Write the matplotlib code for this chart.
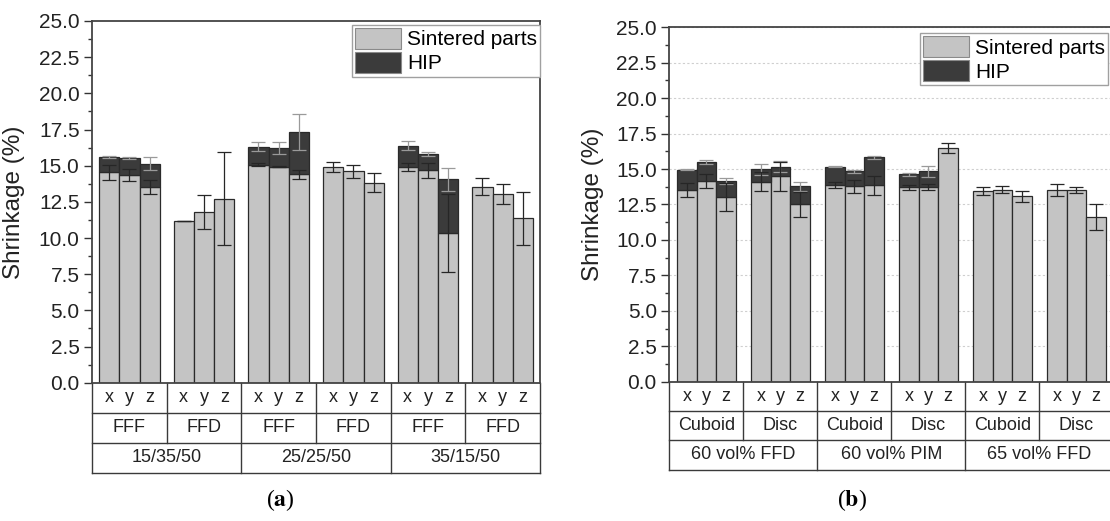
import numpy as np
import matplotlib
matplotlib.use('Agg')
import matplotlib.pyplot as plt
from matplotlib.patches import Patch
from matplotlib.ticker import MultipleLocator, FormatStrFormatter

plt.rcParams['font.family'] = ['Liberation Sans', 'DejaVu Sans']
plt.rcParams['mathtext.fontset'] = 'stix'

# --- data ---
directions = ['x', 'y', 'z']
nan = np.nan

a_process = ['FFF', 'FFD', 'FFF', 'FFD', 'FFF', 'FFD']
a_mix = ['15/35/50', '25/25/50', '35/15/50']
a_sintered = [[14.53, 14.34, 13.51], [11.18, 11.80, 12.73], [15.06, 14.94, 14.41],
              [14.90, 14.60, 13.83], [14.90, 14.67, 10.32], [13.56, 13.05, 11.36]]
a_hip = [[15.59, 15.52, 15.13], [nan, nan, nan], [16.31, 16.22, 17.33],
         [nan, nan, nan], [16.38, 15.82, 14.07], [nan, nan, nan]]
a_sintered_err = [[0.50, 0.40, 0.50], [0.0, 1.20, 3.20], [0.10, 0.05, 0.30],
                  [0.35, 0.45, 0.68], [0.30, 0.50, 2.70], [0.62, 0.67, 1.85]]
a_hip_err = [[0.05, 0.05, 0.46], [nan, nan, nan], [0.32, 0.40, 1.27],
             [nan, nan, nan], [0.30, 0.16, 0.80], [nan, nan, nan]]

b_shape = ['Cuboid', 'Disc', 'Cuboid', 'Disc', 'Cuboid', 'Disc']
b_feedstock = ['60 vol% FFD', '60 vol% PIM', '65 vol% FFD']
b_sintered = [[13.54, 14.17, 13.04], [14.12, 14.48, 12.50], [13.87, 13.77, 13.84],
              [13.70, 13.72, 16.50], [13.42, 13.54, 13.07], [13.54, 13.54, 11.61]]
b_hip = [[14.95, 15.49, 14.17], [14.99, 15.18, 13.77], [15.18, 14.83, 15.82],
         [14.62, 14.85, nan], [nan, nan, nan], [nan, nan, nan]]
b_sintered_err = [[0.50, 0.50, 1.00], [0.65, 1.00, 0.90], [0.20, 0.45, 0.66],
                  [0.15, 0.23, 0.37], [0.28, 0.23, 0.39], [0.42, 0.21, 0.92]]
b_hip_err = [[0.05, 0.16, 0.20], [0.40, 0.40, 0.33], [0.05, 0.10, 0.10],
             [0.10, 0.38, nan], [nan, nan, nan], [nan, nan, nan]]

C_SINT = '#c4c4c4'
C_HIP = '#3b3b3b'
C_EDGE = '#2a2a2a'
C_LINE = '#3a3a3a'


def draw_panel(ax, sint, hip, sint_err, hip_err, row2, row3, step, row_h, grid=False):
    sint = np.array(sint)
    hip = np.array(hip)
    sint_err = np.array(sint_err)
    hip_err = np.array(hip_err)
    offsets = np.array([-step, 0, step])

    for g in range(sint.shape[0]):
        xs = g + offsets
        ax.bar(xs, sint[g], width=step, color=C_SINT, edgecolor=C_EDGE,
               linewidth=0.9, zorder=2)
        has_hip = ~np.isnan(hip[g])
        if has_hip.any():
            ax.bar(xs[has_hip], hip[g][has_hip] - sint[g][has_hip], bottom=sint[g][has_hip],
                   width=step, color=C_HIP, edgecolor=C_EDGE, linewidth=0.9, zorder=2)
            ax.errorbar(xs[has_hip], hip[g][has_hip], yerr=hip_err[g][has_hip], fmt='none',
                        ecolor='#9a9a9a', elinewidth=0.9, capsize=5, capthick=0.9, zorder=3)
        ax.errorbar(xs, sint[g], yerr=sint_err[g], fmt='none', ecolor='#262626',
                    elinewidth=0.9, capsize=5, capthick=0.9, zorder=3)

    ax.set_xlim(-0.5, 5.5)
    ax.set_ylim(0, 25)
    ax.set_xticks([])
    ax.yaxis.set_major_locator(MultipleLocator(2.5))
    ax.yaxis.set_minor_locator(MultipleLocator(1.25))
    ax.yaxis.set_major_formatter(FormatStrFormatter('%.1f'))
    ax.tick_params(axis='y', which='major', length=6, width=1.0, labelsize=15,
                   pad=3, colors='#333333', labelcolor='#222222')
    ax.tick_params(axis='y', which='minor', length=3, width=1.0, colors='#333333')
    for s in ax.spines.values():
        s.set_color('#444444')
        s.set_linewidth(1.3)
    if grid:
        ax.grid(axis='y', color='#cfcfcf', linestyle=(0, (2, 2)), linewidth=0.8, zorder=0)
        ax.set_axisbelow(True)
    ax.set_ylabel('Shrinkage (%)', fontsize=17.5, color='#222222')

    # category table below the axis
    tr = ax.get_xaxis_transform()
    kw = dict(transform=tr, clip_on=False, color=C_LINE, linewidth=1.0)
    for k in range(1, 4):
        ax.plot([-0.5, 5.5], [-k * row_h, -k * row_h], **kw)
    for xb in (-0.5, 5.5):
        ax.plot([xb, xb], [0, -3 * row_h], **kw)
    for g in range(5):
        depth = 3 if g in (1, 3) else 2
        ax.plot([g + 0.5, g + 0.5], [0, -depth * row_h], **kw)

    for g in range(6):
        for x, d in zip(g + offsets, directions):
            ax.text(x, -0.5 * row_h, d, transform=tr, ha='center', va='center',
                    fontsize=13, color='#222222')
        ax.text(g, -1.5 * row_h, row2[g], transform=tr, ha='center', va='center',
                fontsize=13, color='#222222')
    for k, lab in enumerate(row3):
        ax.text(2 * k + 0.5, -2.5 * row_h, lab, transform=tr, ha='center', va='center',
                fontsize=13, color='#222222')


def add_legend(ax, anchor):
    handles = [Patch(facecolor=C_SINT, edgecolor='#8a8a8a', linewidth=0.8, label='Sintered parts'),
               Patch(facecolor=C_HIP, edgecolor='#8a8a8a', linewidth=0.8, label='HIP')]
    leg = ax.legend(handles=handles, loc='upper right', bbox_to_anchor=anchor,
                    fontsize=15, frameon=True, fancybox=False, edgecolor='#a0a0a0',
                    framealpha=1, borderpad=0.15, borderaxespad=0, labelspacing=0.12,
                    handlelength=2.2, handleheight=1.15, handletextpad=0.3)
    leg.get_frame().set_linewidth(1.0)


fig = plt.figure(figsize=(11.1, 5.21), dpi=100)

ax_a = fig.add_axes([0.0829, 0.2654, 0.4036, 0.6943])
draw_panel(ax_a, a_sintered, a_hip, a_sintered_err, a_hip_err, a_process, a_mix,
           step=0.272, row_h=0.0829)
ax_a.yaxis.set_label_coords(-0.15, 0.5)
add_legend(ax_a, (1.0, 0.989))

ax_b = fig.add_axes([0.6030, 0.2674, 0.4000, 0.6802])
draw_panel(ax_b, b_sintered, b_hip, b_sintered_err, b_hip_err, b_shape, b_feedstock,
           step=0.263, row_h=0.0827, grid=True)
ax_b.yaxis.set_label_coords(-0.147, 0.5)
add_legend(ax_b, (0.989, 0.983))

fig.text(280 / 1110, 1 - 500 / 521, r'($\mathbf{a}$)', ha='center', va='center',
         fontsize=17, family='Liberation Serif')
fig.text(852 / 1110, 1 - 500 / 521, r'($\mathbf{b}$)', ha='center', va='center',
         fontsize=17, family='Liberation Serif')

fig.savefig('out.png', dpi=100, facecolor='white')
